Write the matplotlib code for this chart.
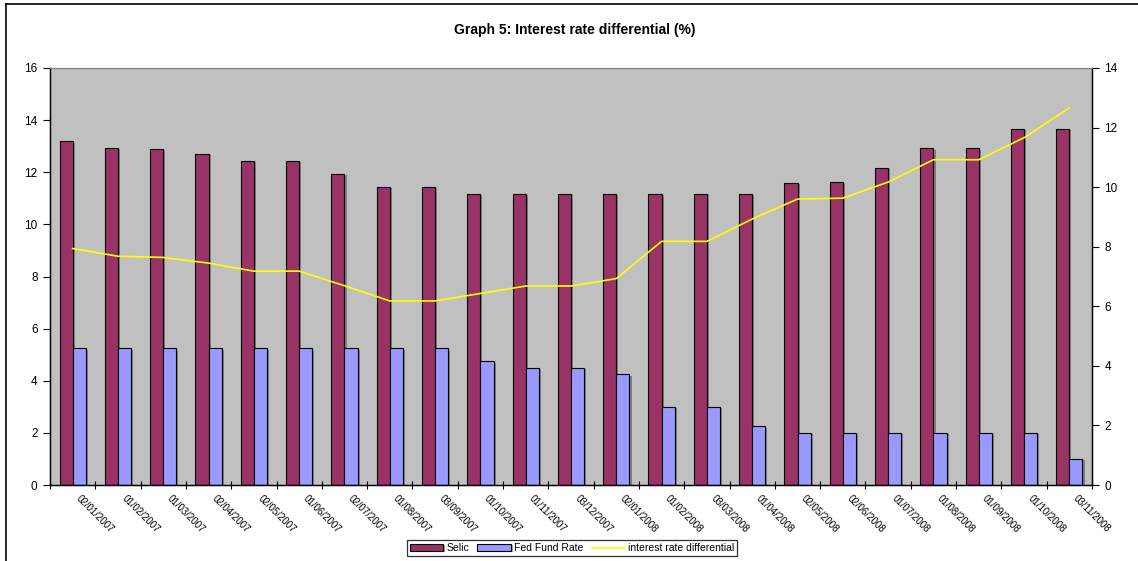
import matplotlib
matplotlib.use("Agg")
import matplotlib.pyplot as plt
import numpy as np
from matplotlib.lines import Line2D
from matplotlib import patheffects as pe

plt.rcParams['font.family'] = ['Liberation Sans', 'DejaVu Sans']

dates = ["02/01/2007", "01/02/2007", "01/03/2007", "02/04/2007", "02/05/2007",
         "01/06/2007", "02/07/2007", "01/08/2007", "03/09/2007", "01/10/2007",
         "01/11/2007", "03/12/2007", "02/01/2008", "01/02/2008", "03/03/2008",
         "01/04/2008", "02/05/2008", "02/06/2008", "01/07/2008", "01/08/2008",
         "01/09/2008", "01/10/2008", "03/11/2008"]
selic = [13.19, 12.93, 12.89, 12.70, 12.43, 12.43, 11.94, 11.43, 11.43, 11.18,
         11.18, 11.18, 11.18, 11.18, 11.18, 11.18, 11.60, 11.63, 12.17, 12.92,
         12.92, 13.66, 13.66]
fed_funds = [5.25, 5.25, 5.25, 5.25, 5.25, 5.25, 5.25, 5.25, 5.25, 4.75,
             4.50, 4.50, 4.25, 3.00, 3.00, 2.25, 2.00, 2.00, 2.00, 2.00,
             2.00, 2.00, 1.00]
differential = [7.94, 7.68, 7.64, 7.45, 7.18, 7.18, 6.69, 6.18, 6.18, 6.43,
                6.68, 6.68, 6.93, 8.18, 8.18, 8.93, 9.60, 9.63, 10.17, 10.92,
                10.92, 11.66, 12.66]

W, H = 1138, 561
fig = plt.figure(figsize=(W / 100, H / 100), dpi=100)
fig.patch.set_facecolor("white")

# outer chart frame (top and left edges)
fig.add_artist(Line2D([6 / W, 6 / W], [0, 1 - 4 / H], color="black", lw=1.2))
fig.add_artist(Line2D([6 / W, 1], [1 - 4 / H, 1 - 4 / H], color="black", lw=1.2))

ax = fig.add_axes([50 / W, 1 - 485 / H, (1092 - 50) / W, (485 - 68) / H])
ax.set_facecolor("#C0C0C0")

n = len(dates)
x = np.arange(n)
bw = 0.29
shadow = [pe.SimplePatchShadow(offset=(1.5, -1.0), shadow_rgbFace="#404040", alpha=0.5), pe.Normal()]
b1 = ax.bar(x - bw / 2, selic, bw, color="#993366", edgecolor="black", linewidth=0.8,
            label="Selic", zorder=2)
b2 = ax.bar(x + bw / 2, fed_funds, bw, color="#9999FF", edgecolor="black", linewidth=0.8,
            label="Fed Fund Rate", zorder=2)
for p in list(b1) + list(b2):
    p.set_path_effects(shadow)

ax.set_xlim(-0.5, n - 0.5)
ax.set_ylim(0, 16)
ax.set_yticks(range(0, 17, 2))
ax.tick_params(axis="y", direction="out", length=5, width=0.8, labelsize=8.5, pad=4)
ax.set_xticks(np.arange(-0.5, n, 1.0))
ax.set_xticklabels([])
ax.tick_params(axis="x", direction="inout", length=6, width=0.8)
for i, d in enumerate(dates):
    ax.text(i + 0.12, -0.45, d, rotation=-45, rotation_mode="anchor",
            ha="left", va="center", fontsize=7, transform=ax.transData, clip_on=False)

for side in ("left", "bottom", "right"):
    ax.spines[side].set_color("black")
    ax.spines[side].set_linewidth(1.0)
ax.spines["top"].set_color("#808080")

ax2 = ax.twinx()
line, = ax2.plot(x, differential, color="#FFFF00", lw=1.2, label="interest rate differential",
                 zorder=3)
ax2.set_ylim(0, 14)
ax2.set_yticks(range(0, 15, 2))
ax2.tick_params(axis="y", direction="out", length=5, width=0.8, labelsize=8.5, pad=4)
ax2.spines["right"].set_color("black")
ax2.spines["top"].set_color("#808080")

fig.text(575 / W, 1 - 30 / H, "Graph 5: Interest rate differential (%)",
         ha="center", va="center", fontsize=10, fontweight="bold")

leg = fig.legend(handles=[b1, b2, line], loc="center", ncol=3,
                 bbox_to_anchor=(572 / W, 1 - 548 / H), fontsize=7.5, frameon=True,
                 fancybox=False, edgecolor="black", handlelength=3.2, handletextpad=0.3,
                 columnspacing=0.8, borderpad=0.25, handleheight=0.6)
leg.get_frame().set_linewidth(0.9)

fig.savefig("out.png", dpi=100)
